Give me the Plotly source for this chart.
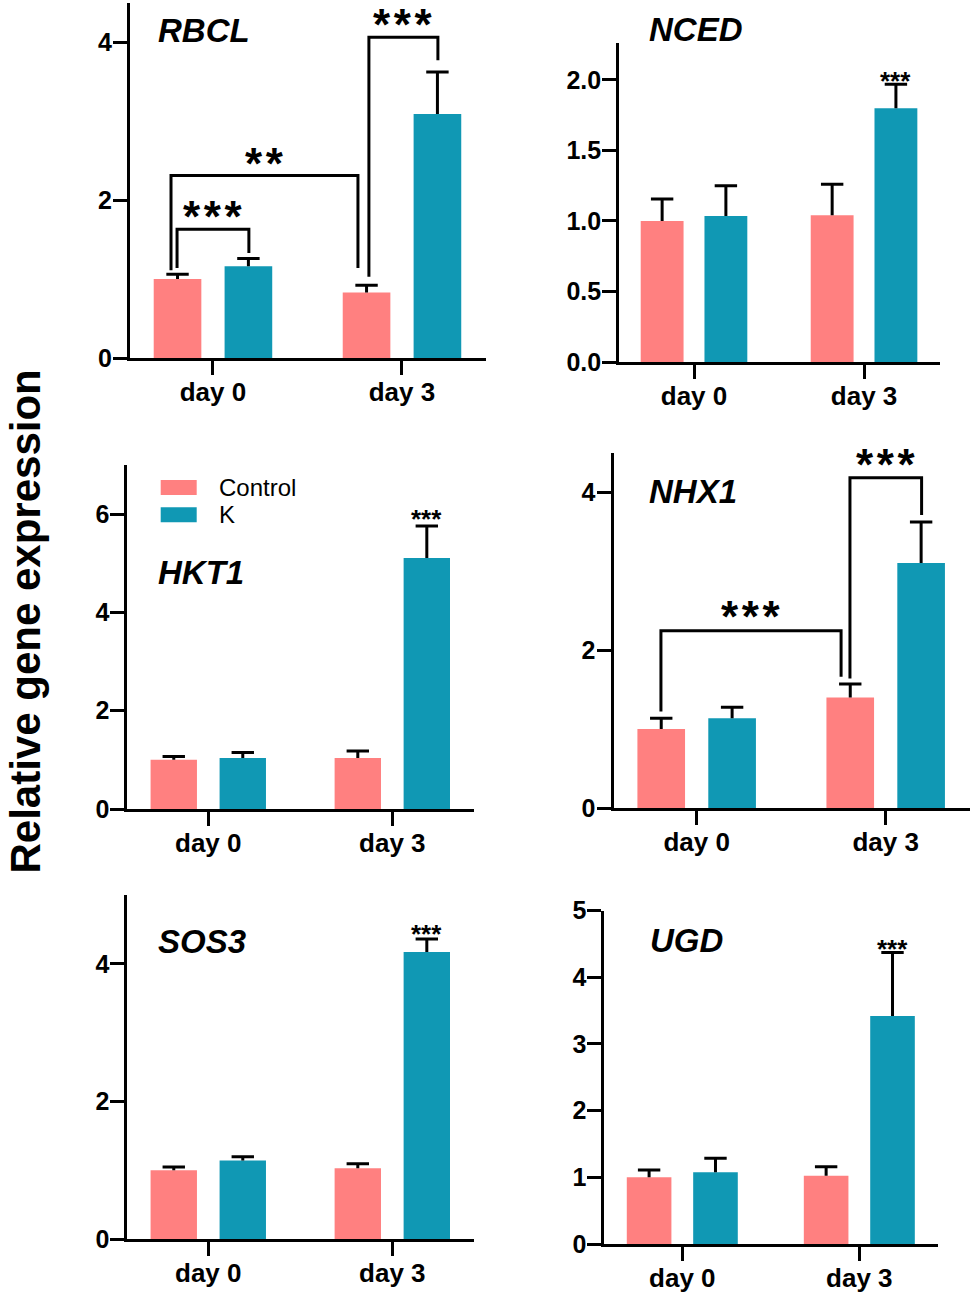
import plotly.graph_objects as go

# ---------------- data ----------------
genes = ["RBCL", "NCED", "HKT1", "NHX1", "SOS3", "UGD"]
days = ["day 0", "day 3"]
groups = ["Control", "K"]

control_mean = [[1.00, 0.83], [1.00, 1.04], [1.00, 1.04], [1.00, 1.40], [1.00, 1.03], [1.00, 1.025]]
control_sd = [[0.06, 0.09], [0.156, 0.22], [0.07, 0.14], [0.135, 0.17], [0.045, 0.065], [0.11, 0.135]]
k_mean = [[1.16, 3.09], [1.035, 1.80], [1.04, 5.11], [1.135, 3.10], [1.14, 4.17], [1.075, 3.42]]
k_sd = [[0.10, 0.53], [0.215, 0.17], [0.11, 0.65], [0.14, 0.52], [0.056, 0.19], [0.21, 0.95]]

y_max = [4.5, 2.26, 7, 4.5, 5, 5]
y_dtick = [2, 0.5, 2, 2, 2, 1]
y_format = ["d", ".1f", "d", "d", "d", "d"]

# single-star marks above K day 3 bar: (gene index, y of stars)
single_sig_gene = [1, 2, 4, 5]
single_sig_y = [2.035, 6.02, 4.52, 4.51]
single_sig_label = ["***", "***", "***", "***"]

# comparison brackets: gene index, x left, x right, y left foot, y top, y right foot, label, label y
bracket_gene = [0, 0, 0, 3, 3]
bracket_x0 = [-0.19, -0.222, 0.825, -0.189, 0.811]
bracket_x1 = [0.19, 0.767, 1.19, 0.764, 1.19]
bracket_y_left = [1.14, 1.11, 1.03, 1.22, 1.64]
bracket_y_top = [1.63, 2.31, 4.06, 2.245, 4.18]
bracket_y_right = [1.33, 1.14, 3.77, 1.66, 3.71]
bracket_label = ["***", "**", "***", "***", "***"]
bracket_label_y = [1.915, 2.59, 4.35, 2.55, 4.47]

# ---------------- style / layout ----------------
W, H = 974, 1294
FONT = "Liberation Sans, Arial, Helvetica, sans-serif"
C_CTRL = "#FF8080"
C_K = "#1098B4"
OFF = 0.1875
BW = 0.252
XR = [-0.44, 1.445]

# pixel boxes of each panel: left, right, top, bottom
boxes = [
    (129.8, 486.1, 2.5, 358.0),
    (619.2, 939.7, 43.3, 362.0),
    (127.3, 474.2, 465.0, 809.0),
    (613.5, 969.8, 452.5, 808.0),
    (127.3, 474.2, 895.0, 1239.0),
    (604.4, 938.1, 910.5, 1244.0),
]
title_pos = [(156, 31), (647, 29.5), (156, 572.5), (647, 491.5), (156, 941), (648, 940)]

fig = go.Figure()
annotations = []
shapes = []

for i, g in enumerate(genes):
    n = i + 1
    xa = "x" if n == 1 else f"x{n}"
    ya = "y" if n == 1 else f"y{n}"
    xc = [d - OFF for d in range(len(days))]
    xk = [d + OFF for d in range(len(days))]
    for xs, mean, sd, col, name in [(xc, control_mean[i], control_sd[i], C_CTRL, groups[0]),
                                    (xk, k_mean[i], k_sd[i], C_K, groups[1])]:
        fig.add_trace(go.Bar(
            x=xs, y=mean, width=BW, name=name, showlegend=False,
            marker=dict(color=col, line=dict(width=0)),
            error_y=dict(type="data", array=sd, arrayminus=[0] * len(sd), symmetric=False,
                         width=0, thickness=3, color="black"),
            xaxis=xa, yaxis=ya, hoverinfo="skip"))
        fig.add_trace(go.Scatter(
            x=xs, y=[m + s for m, s in zip(mean, sd)], mode="markers", showlegend=False,
            marker=dict(symbol="line-ew", size=16, color="black", line=dict(width=3, color="black")),
            xaxis=xa, yaxis=ya, hoverinfo="skip"))

    l, r, t, b = boxes[i]
    fig.layout[f"xaxis{'' if n == 1 else n}"] = dict(
        domain=[l / W, r / W], range=XR, anchor=ya, tickvals=list(range(len(days))), ticktext=days,
        showline=True, linewidth=3, linecolor="black", ticks="outside", ticklen=14, tickwidth=3,
        tickcolor="black", showgrid=False, zeroline=False, fixedrange=True, automargin=False,
        ticklabelstandoff=-5,
        tickfont=dict(family=FONT, size=26, color="black", weight="bold"))
    fig.layout[f"yaxis{'' if n == 1 else n}"] = dict(
        domain=[1 - b / H, 1 - t / H], range=[0, y_max[i]], anchor=xa, dtick=y_dtick[i], tick0=0,
        tickformat=y_format[i], automargin=False, ticklabelstandoff=-4,
        showline=True, linewidth=3, linecolor="black", ticks="outside", ticklen=14, tickwidth=3,
        tickcolor="black", showgrid=False, zeroline=False, fixedrange=True,
        tickfont=dict(family=FONT, size=25, color="black", weight="bold"))

    tx, ty = title_pos[i]
    annotations.append(dict(text=f"<b><i>{g}</i></b>", x=tx / W, y=1 - ty / H, xref="paper", yref="paper",
                            xanchor="left", yanchor="middle", showarrow=False,
                            font=dict(family=FONT, size=33, color="black")))

# single significance stars
for gi, sy, lab in zip(single_sig_gene, single_sig_y, single_sig_label):
    n = gi + 1
    annotations.append(dict(text=f"<b>{lab}</b>", x=1 + OFF, y=sy, xref="x" if n == 1 else f"x{n}",
                            yref="y" if n == 1 else f"y{n}", xanchor="center", yanchor="middle",
                            yshift=-6, showarrow=False, font=dict(family=FONT, size=26, color="black")))

# brackets
for gi, x0, x1, yl, yt, yr, lab, ly in zip(bracket_gene, bracket_x0, bracket_x1, bracket_y_left,
                                           bracket_y_top, bracket_y_right, bracket_label, bracket_label_y):
    n = gi + 1
    xa = "x" if n == 1 else f"x{n}"
    ya = "y" if n == 1 else f"y{n}"
    fig.add_trace(go.Scatter(x=[x0, x0, x1, x1], y=[yl, yt, yt, yr], mode="lines", showlegend=False,
                             line=dict(color="black", width=3), xaxis=xa, yaxis=ya, hoverinfo="skip"))
    annotations.append(dict(text="<b>" + "\u200a".join(lab) + "</b>", x=(x0 + x1) / 2, y=ly, xref=xa, yref=ya,
                            xanchor="center", yanchor="middle", yshift=-10, showarrow=False,
                            font=dict(family=FONT, size=44, color="black")))

# legend (drawn inside HKT1 panel)
leg_y = [487.5, 514.8]
for name, col, yy in zip(groups, [C_CTRL, C_K], leg_y):
    shapes.append(dict(type="rect", xref="paper", yref="paper", x0=160.7 / W, x1=196.7 / W,
                       y0=1 - (yy + 7.5) / H, y1=1 - (yy - 7.5) / H, fillcolor=col, line=dict(width=0)))
    annotations.append(dict(text=name, x=217 / W, y=1 - yy / H, xref="paper", yref="paper",
                            xanchor="left", yanchor="middle", showarrow=False,
                            font=dict(family=FONT, size=24, color="black")))

# common y title
annotations.append(dict(text="<b>Relative gene expression</b>", x=25 / W, y=1 - 621.5 / H, xref="paper",
                        yref="paper", xanchor="center", yanchor="middle", textangle=-90, showarrow=False,
                        borderpad=0, font=dict(family=FONT, size=42, color="black")))

fig.update_layout(width=W, height=H, margin=dict(l=0, r=0, t=0, b=0, pad=0, autoexpand=False),
                  autosize=False,
                  paper_bgcolor="white", plot_bgcolor="white", barmode="overlay",
                  annotations=annotations, shapes=shapes, showlegend=False)

fig.write_html("out.html", config={"displayModeBar": False},
               post_script="document.body.style.margin='0';document.body.style.overflow='hidden';")
